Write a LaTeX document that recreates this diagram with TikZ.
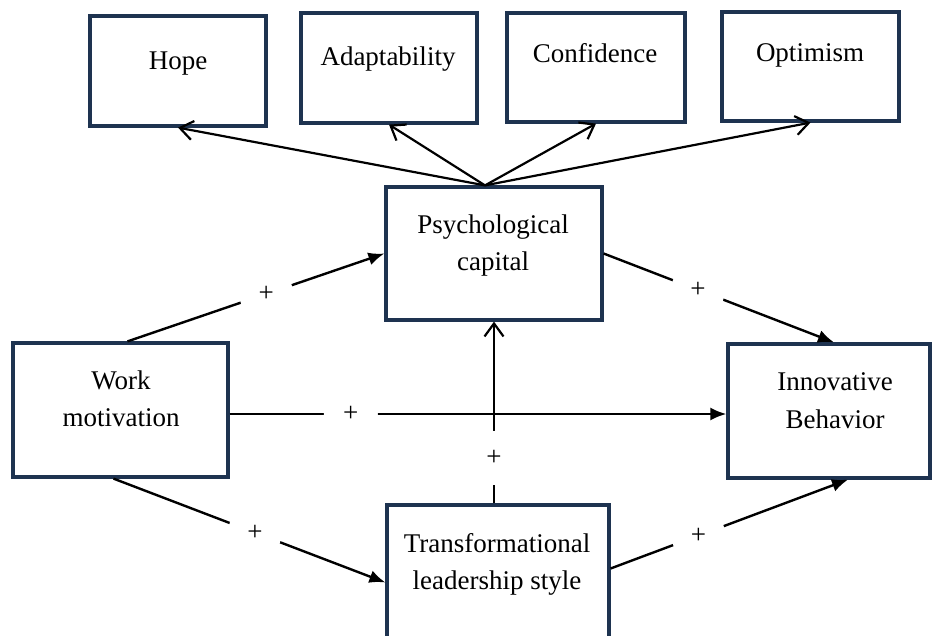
\documentclass[tikz,border=0pt]{standalone}
\usepackage{fontspec}
\setmainfont{Liberation Serif}
\usetikzlibrary{arrows.meta,calc}
\definecolor{boxc}{HTML}{1E3350}
\begin{document}
\begin{tikzpicture}[x=1pt,y=-1pt,
  box/.style={draw=boxc,line width=3.2pt,rectangle,inner sep=0pt},
  lbl/.style={font=\fontsize{27}{37}\selectfont,align=center,anchor=base,inner sep=0pt},
  farrow/.style={-{Latex[length=16pt,width=13pt]},line width=2.4pt},
  oarrow/.style={-{Straight Barb[length=13pt,width=19pt]},line width=2.2pt},
  plusn/.style={fill=white,circle,inner sep=0pt,minimum size=54pt,font=\fontsize{27}{37}\selectfont}]
\useasboundingbox (0,0) rectangle (932,636);
% boxes
\node[box,minimum width=176pt,minimum height=110pt] (hope)  at (178,71) {};
\node[box,minimum width=176pt,minimum height=110pt] (adapt) at (389,68) {};
\node[box,minimum width=178pt,minimum height=109pt] (conf)  at (596,67.5) {};
\node[box,minimum width=177pt,minimum height=109pt] (opt)   at (810.5,66.5) {};
\node[box,minimum width=216pt,minimum height=133pt] (psy)   at (494,253.5) {};
\node[box,minimum width=215pt,minimum height=134pt] (wm)    at (120.5,410) {};
\node[box,minimum width=202pt,minimum height=134pt] (innov) at (829,411) {};
\node[box,minimum width=222pt,minimum height=155pt] (tr)    at (498,582.5) {};
% texts (base = baseline of last line)
\node[lbl] (thope)  at (178,70) {Hope};
\node[lbl] (tadapt) at (388,66) {Adaptability};
\node[lbl] (tconf)  at (595,63) {Confidence};
\node[lbl] (topt)   at (810,62) {Optimism};
\node[lbl] (tpsy)   at (493,271) {Psychological\\capital};
\node[lbl] (twm)    at (121,426) {Work\\motivation};
\node[lbl] (tinnov) at (835,428) {Innovative\\Behavior};
\node[lbl] (ttr)    at (497,589) {Transformational\\leadership style};
% connectors to dimensions
\coordinate (ptop) at ($(psy.north)+(-9,0)$);
\draw[oarrow] (ptop) -- (hope.south);
\draw[oarrow] (ptop) -- (adapt.south);
\draw[oarrow] (ptop) -- (conf.south);
\draw[oarrow] (ptop) -- (opt.south);
% main paths
\draw[farrow] ($(wm.north)+(7,0)$) -- node[plusn,pos=0.54] (p1) {+} (psy.west);
\draw[farrow] (psy.east) -- node[plusn,pos=0.41] (p2) {+} ($(innov.north)+(5,0)$);
\draw[farrow] ($(wm.east)+(0,4)$) -- node[plusn,pos=0.244] (p3) {+} ($(innov.west)+(0,3)$);
\draw[oarrow] (psy.south |- tr.north) -- node[plusn,pos=0.25] (p4) {+} (psy.south);
\draw[farrow] ($(wm.south)+(-7,0)$) -- node[plusn,pos=0.52] (p5) {+} (tr.west);
\draw[farrow] ($(tr.east)+(0,-14)$) -- node[plusn,pos=0.37] (p6) {+} ($(innov.south)+(19,0)$);
\end{tikzpicture}
\end{document}
